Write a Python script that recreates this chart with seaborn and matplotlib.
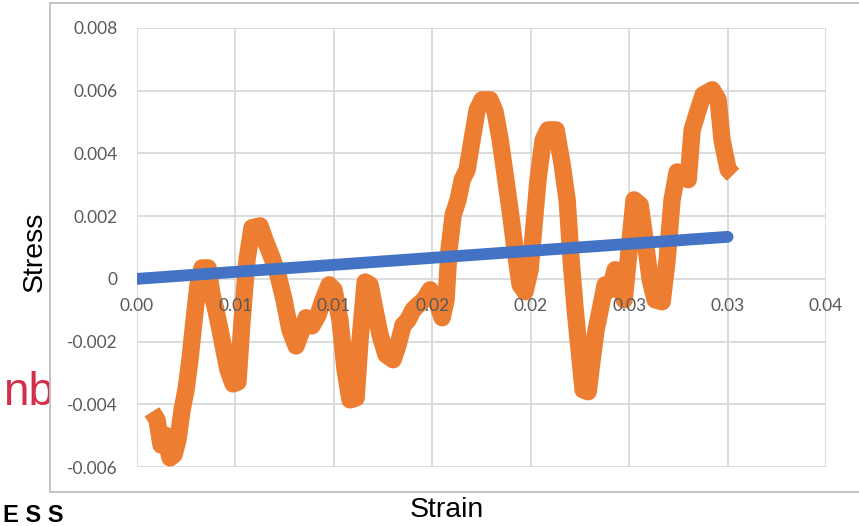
import pandas as pd
import matplotlib.pyplot as plt
import seaborn as sns
from matplotlib.patches import Rectangle

# Excel-like look: white background, no seaborn grid (we set our own)
sns.set_theme(style="white")
plt.rcParams["font.family"] = ["Liberation Sans", "DejaVu Sans"]

strain = [
    0.00076, 0.00102, 0.00122, 0.00142, 0.00168, 0.00188, 0.00208, 0.00229,
    0.00249, 0.00269, 0.00290, 0.00310, 0.00330, 0.00361, 0.00381, 0.00401,
    0.00422, 0.00442, 0.00462, 0.00488, 0.00513, 0.00534, 0.00559, 0.00584,
    0.00625, 0.00650, 0.00686, 0.00716, 0.00747, 0.00777, 0.00808, 0.00838,
    0.00859, 0.00889, 0.00920, 0.00945, 0.00976, 0.01001, 0.01031, 0.01057,
    0.01082, 0.01113, 0.01133, 0.01159, 0.01184, 0.01209, 0.01235, 0.01265,
    0.01301, 0.01326, 0.01352, 0.01377, 0.01402, 0.01428, 0.01458, 0.01489,
    0.01519, 0.01550, 0.01570, 0.01585, 0.01606, 0.01631, 0.01652, 0.01677,
    0.01702, 0.01728, 0.01753, 0.01794, 0.01819, 0.01845, 0.01870, 0.01895,
    0.01921, 0.01946, 0.01971, 0.01997, 0.02017, 0.02037, 0.02063, 0.02088,
    0.02129, 0.02160, 0.02185, 0.02205, 0.02226, 0.02246, 0.02266, 0.02292,
    0.02312, 0.02332, 0.02353, 0.02378, 0.02403, 0.02429, 0.02449, 0.02475,
    0.02505, 0.02525, 0.02556, 0.02581, 0.02607, 0.02632, 0.02668, 0.02693,
    0.02718, 0.02744, 0.02779, 0.02800, 0.02820, 0.02851, 0.02876, 0.02922,
    0.02952, 0.02972, 0.03003, 0.03028,
]
stress = [
    -0.00424, -0.00450, -0.00530, -0.00498, -0.00571, -0.00561, -0.00514, -0.00418,
    -0.00354, -0.00258, -0.00131, -0.00019, 0.00035, 0.00035, -0.00051, -0.00099,
    -0.00163, -0.00227, -0.00290, -0.00335, -0.00329, -0.00131, 0.00061, 0.00163,
    0.00169, 0.00124, 0.00067, 0.00013, -0.00067, -0.00163, -0.00214, -0.00163,
    -0.00124, -0.00150, -0.00115, -0.00067, -0.00019, -0.00035, -0.00131, -0.00290,
    -0.00386, -0.00380, -0.00195, -0.00010, -0.00019, -0.00099, -0.00179, -0.00242,
    -0.00258, -0.00211, -0.00147, -0.00131, -0.00099, -0.00083, -0.00067, -0.00035,
    -0.00067, -0.00124, -0.00067, 0.00093, 0.00204, 0.00252, 0.00316, 0.00348,
    0.00443, 0.00539, 0.00571, 0.00571, 0.00533, 0.00443, 0.00332, 0.00220,
    0.00093, -0.00019, -0.00041, 0.00029, 0.00172, 0.00316, 0.00443, 0.00475,
    0.00475, 0.00364, 0.00252, 0.00061, -0.00099, -0.00227, -0.00354, -0.00360,
    -0.00258, -0.00163, -0.00099, -0.00019, -0.00035, 0.00029, -0.00003, -0.00067,
    0.00124, 0.00252, 0.00236, 0.00124, -0.00003, -0.00067, -0.00073, 0.00061,
    0.00252, 0.00341, 0.00332, 0.00316, 0.00475, 0.00539, 0.00587, 0.00603,
    0.00571, 0.00443, 0.00348, 0.00332,
]

# Linear fit line
fit_strain = [0.0, 0.0300]
fit_stress = [0.0, 0.00134]

# Axis ticks and their labels (Excel rounds to 2 decimals)
x_ticks = [0.0, 0.005, 0.010, 0.015, 0.020, 0.025, 0.030, 0.035]
x_tick_labels = ["0.00", "0.01", "0.01", "0.02", "0.02", "0.03", "0.03", "0.04"]
y_ticks = [-0.006, -0.004, -0.002, 0.0, 0.002, 0.004, 0.006, 0.008]
y_tick_labels = ["-0.006", "-0.004", "-0.002", "0", "0.002", "0.004", "0.006", "0.008"]

curve_df = pd.DataFrame({"Strain": strain, "Stress": stress})
fit_df = pd.DataFrame({"Strain": fit_strain, "Stress": fit_stress})

orange = "#ED7D31"
blue = "#4472C4"
grid_color = "#D9D9D9"
tick_color = "#595959"

fig = plt.figure(figsize=(8.59, 5.26), dpi=100)

# bits of the slide logos peeking out behind the chart
fig.text(3 / 859, 1 - 405 / 526, "nb", color="#D42F4A", fontsize=33,
         ha="left", va="baseline", zorder=-3)
fig.text(3 / 859, 1 - 504 / 526, "E S S", color="black", fontsize=17,
         fontweight="bold", ha="left", va="top", zorder=-3)

# chart area box (runs off the right edge)
fig.patches.append(Rectangle((50 / 859, 1 - 492 / 526), 1.0, 489 / 526,
                             transform=fig.transFigure, facecolor="white",
                             edgecolor="#BFBFBF", linewidth=1.3, zorder=-1))

ax = fig.add_axes([137 / 859, 59 / 526, 689 / 859, 439 / 526])
ax.set_facecolor("none")

# horizontal gridlines through the axis, vertical ones drawn by hand so
# the x tick labels can sit on top of the data like in Excel
ax.set_axisbelow(True)
ax.grid(axis="y", color=grid_color, linewidth=1.3)
ax.vlines(x_ticks, y_ticks[0], y_ticks[-1], color=grid_color,
          linewidth=1.3, zorder=0.5)

sns.lineplot(data=curve_df, x="Strain", y="Stress", ax=ax, sort=False,
             estimator=None, color=orange, linewidth=12.5,
             solid_joinstyle="round", solid_capstyle="butt", zorder=2)
sns.lineplot(data=fit_df, x="Strain", y="Stress", ax=ax, sort=False,
             estimator=None, color=blue, linewidth=8.5,
             solid_capstyle="round", zorder=3)

ax.set_xlim(0, 0.035)
ax.set_ylim(-0.006, 0.008)

ax.set_xticks(x_ticks)
ax.set_xticklabels(x_tick_labels)
ax.set_yticks(y_ticks)
ax.set_yticklabels(y_tick_labels)

for side in ["top", "right", "left", "bottom"]:
    ax.spines[side].set_visible(False)
ax.spines["bottom"].set_position(("data", 0))
ax.xaxis.set_zorder(4)

ax.tick_params(axis="both", length=0, labelsize=12.5, labelcolor=tick_color)
ax.tick_params(axis="x", pad=14)
ax.tick_params(axis="y", pad=14)
for lbl in ax.get_xticklabels() + ax.get_yticklabels():
    lbl.set_family(["Lato", "DejaVu Sans"])

ax.set_xlabel("Strain", fontsize=20.5, color="black", va="center")
ax.set_ylabel("Stress", fontsize=20.5, color="black", va="center")
ax.xaxis.set_label_coords((447 - 137) / 689, (467 - 510) / 439)
ax.yaxis.set_label_coords((35 - 137) / 689, (467 - 252) / 439)

fig.savefig("out.png", dpi=100)
